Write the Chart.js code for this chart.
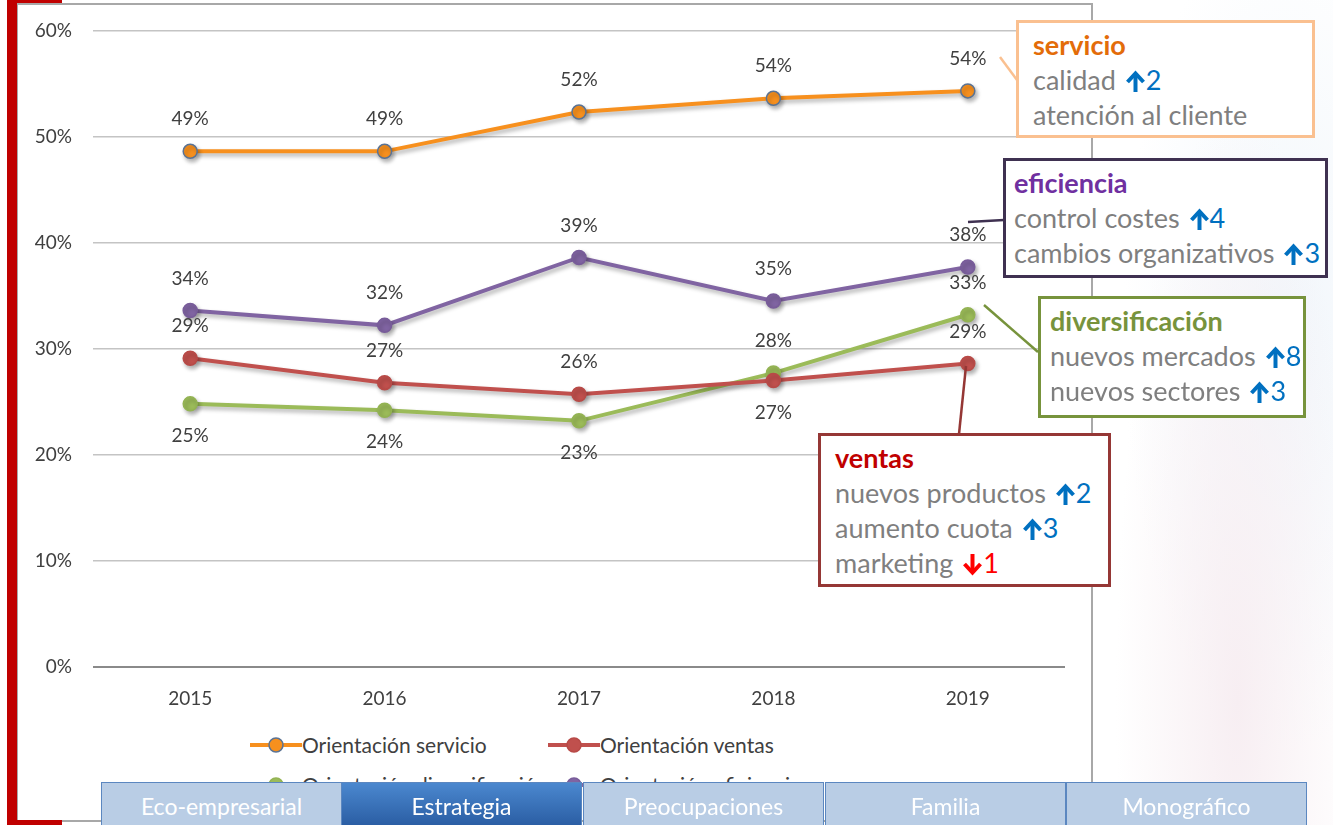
<!DOCTYPE html>
<html lang="es">
<head>
<meta charset="UTF-8">
<title>Orientación estratégica</title>
<script src="https://cdn.jsdelivr.net/npm/chart.js"></script>
<style>
  body { margin: 0; width: 1333px; height: 825px; overflow: hidden; background: #fff; font-family: Lato, "Open Sans", sans-serif; position: relative; }
  .abs { position: absolute; }
  .bg { left: 1094px; top: 0; width: 239px; height: 825px;
        background: radial-gradient(ellipse at 60% 85%, #f7eef2 0%, rgba(255,255,255,0) 60%),
                    radial-gradient(ellipse at 80% 40%, #f1f6fb 0%, rgba(255,255,255,0) 60%); }
  .frame { left: 17px; top: 3px; width: 1073px; height: 815px; border: 2px solid #a8a8a8; border-left-width: 1px; background: #fff; }
  .red { background: #c00000; }
  #wrap { left: 20px; top: -2px; width: 1070px; height: 722px; }
  svg.links { left: 0; top: 0; width: 1333px; height: 825px; }
  .box { background: #fff; border: 3px solid; padding: 4px 0 0 14px; box-sizing: border-box; font-size: 27px; line-height: 35px; color: #7f7f7f; white-space: nowrap; }
  .box b { font-weight: 700; }
  .ar { display: inline-block; width: 21px; height: 23px; vertical-align: -3px; margin-left: 2px; }
  .upn { color: #0070c0; }
  .dnn { color: #ff0000; }
  #legend { left: 250px; top: 732px; width: 700px; font-size: 21px; color: #404040; }
  .li { position: absolute; white-space: nowrap; display: flex; align-items: center; }
  .tab { top: 782px; height: 45px; width: 241px; box-sizing: border-box; border: 1px solid #5b87c0; background: #b9cde5; color: #fff; font-size: 23px; text-align: center; line-height: 46px; }
  .tab.on { background: linear-gradient(#4b88cf, #2a5da3); }
</style>
</head>
<body>
<div class="abs bg"></div>
<div class="abs frame"></div>
<div class="abs" id="wrap"><canvas id="chart"></canvas></div>
<div class="abs red" style="left:7px;top:0;width:10px;height:825px"></div>
<div class="abs red" style="left:7px;top:0;width:55px;height:3px"></div>
<div class="abs red" style="left:7px;top:820px;width:55px;height:5px"></div>
<div class="abs" id="legend"></div>

<svg class="abs links" viewBox="0 0 1333 825">
  <line x1="1000" y1="57" x2="1017" y2="80" stroke="#fac090" stroke-width="2.5"/>
  <line x1="968" y1="222" x2="1004" y2="220" stroke="#3f3151" stroke-width="2.5"/>
  <line x1="984" y1="305" x2="1038" y2="352" stroke="#77933c" stroke-width="2.5"/>
  <line x1="966" y1="366" x2="959" y2="434" stroke="#953735" stroke-width="2.5"/>
</svg>

<div class="abs box" style="left:1016px;top:20px;width:299px;height:118px;border-color:#fac090">
  <b style="color:#e36c09">servicio</b><br>
  calidad <i class="ar up"></i><span class="upn">2</span><br>
  atención al cliente
</div>
<div class="abs box" style="left:1003px;top:158px;width:325px;height:120px;border-color:#3f3151;padding-left:8px">
  <b style="color:#7030a0">eficiencia</b><br>
  control costes <i class="ar up"></i><span class="upn">4</span><br>
  cambios organizativos <i class="ar up"></i><span class="upn">3</span>
</div>
<div class="abs box" style="left:1038px;top:296px;width:268px;height:122px;border-color:#77933c;padding-left:9px">
  <b style="color:#77933c">diversificación</b><br>
  nuevos mercados <i class="ar up"></i><span class="upn">8</span><br>
  nuevos sectores <i class="ar up"></i><span class="upn">3</span>
</div>
<div class="abs box" style="left:818px;top:433px;width:293px;height:154px;border-color:#953735">
  <b style="color:#c00000">ventas</b><br>
  nuevos productos <i class="ar up"></i><span class="upn">2</span><br>
  aumento cuota <i class="ar up"></i><span class="upn">3</span><br>
  marketing <i class="ar dn"></i><span class="dnn">1</span>
</div>

<div class="abs tab" style="left:101px">Eco-empresarial</div>
<div class="abs tab on" style="left:341px">Estrategia</div>
<div class="abs tab" style="left:583px">Preocupaciones</div>
<div class="abs tab" style="left:825px">Familia</div>
<div class="abs tab" style="left:1066px">Monográfico</div>

<script>
  // datos (%)
  const years = ['2015', '2016', '2017', '2018', '2019'];
  const servicio = [48.6, 48.6, 52.3, 53.6, 54.3];
  const ventas = [29.1, 26.8, 25.7, 27.0, 28.6];
  const diversificacion = [24.8, 24.2, 23.2, 27.7, 33.2];
  const eficiencia = [33.6, 32.2, 38.6, 34.5, 37.7];
  const yTicks = [0, 10, 20, 30, 40, 50, 60];

  // posición de la etiqueta de cada punto
  const posServicio = ['top', 'top', 'top', 'top', 'top'];
  const posVentas = ['top', 'top', 'top', 'bottom', 'top'];
  const posDiversificacion = ['bottom', 'bottom', 'bottom', 'top', 'top'];
  const posEficiencia = ['top', 'top', 'top', 'top', 'top'];

  const series = [
    { label: 'Orientación servicio', data: servicio, color: '#f7901e', edge: '#5a7394', pos: posServicio },
    { label: 'Orientación ventas', data: ventas, color: '#c0504d', edge: '#b84a47', pos: posVentas },
    { label: 'Orientación diversificación', data: diversificacion, color: '#9bbb59', edge: '#93b353', pos: posDiversificacion },
    { label: 'Orientación eficiencia', data: eficiencia, color: '#8064a2', edge: '#785c9a', pos: posEficiencia }
  ];

  // flechas gruesas de las cajas
  const arrow = (col, down) => `<svg width="21" height="23" viewBox="0 0 21 23"><g stroke="${col}" stroke-width="4" fill="none"${down ? ' transform="rotate(180 10.5 11.5)"' : ''}><line x1="10.5" y1="22" x2="10.5" y2="4"/><polyline points="2.5,12 10.5,3.5 18.5,12"/></g></svg>`;
  document.querySelectorAll('.ar.up').forEach(e => e.innerHTML = arrow('#0070c0', false));
  document.querySelectorAll('.ar.dn').forEach(e => e.innerHTML = arrow('#ff0000', true));

  const shadow = {
    id: 'shadow',
    beforeDatasetsDraw(chart) {
      const c = chart.ctx;
      c.save();
      c.shadowColor = 'rgba(0,0,0,0.3)';
      c.shadowBlur = 4;
      c.shadowOffsetX = 2;
      c.shadowOffsetY = 3;
    },
    afterDatasetsDraw(chart) { chart.ctx.restore(); }
  };

  const labels = {
    id: 'labels',
    afterDatasetsDraw(chart) {
      const c = chart.ctx;
      c.save();
      c.font = '19px Lato, sans-serif';
      c.fillStyle = '#404040';
      c.textAlign = 'center';
      c.textBaseline = 'middle';
      chart.data.datasets.forEach((ds, i) => {
        chart.getDatasetMeta(i).data.forEach((pt, j) => {
          const dy = ds.pos[j] === 'top' ? -32 : 32;
          c.fillText(Math.round(ds.data[j]) + '%', pt.x, pt.y + dy);
        });
      });
      c.restore();
    }
  };

  new Chart(document.getElementById('chart'), {
    type: 'line',
    data: {
      labels: years,
      datasets: series.map(s => ({
        label: s.label,
        data: s.data,
        pos: s.pos,
        borderColor: s.color,
        backgroundColor: s.color,
        pointBackgroundColor: s.color,
        pointBorderColor: s.edge,
        pointBorderWidth: 1.5,
        pointRadius: 7,
        borderWidth: 4,
        tension: 0
      }))
    },
    options: {
      responsive: true,
      maintainAspectRatio: false,
      animation: false,
      layout: { padding: { top: 18, right: 25, left: 0, bottom: 0 } },
      plugins: { legend: { display: false }, tooltip: { enabled: false } },
      scales: {
        x: {
          offset: true,
          grid: { display: false, drawTicks: false },
          border: { display: false },
          ticks: { color: '#404040', font: { family: 'Lato', size: 19 }, padding: 20 },
          afterFit(s) { s.height = 53; }
        },
        y: {
          min: 0, max: 60,
          afterBuildTicks(s) { s.ticks = yTicks.map(v => ({ value: v })); },
          grid: {
            drawTicks: false,
            color: ctx => ctx.tick && ctx.tick.value === 0 ? '#8a8a8a' : '#c4c4c4',
            lineWidth: ctx => ctx.tick && ctx.tick.value === 0 ? 2 : 1.5
          },
          border: { display: false },
          ticks: { color: '#404040', font: { family: 'Lato', size: 19 }, padding: 21, callback: v => v + '%' },
          afterFit(s) { s.width = 73; }
        }
      }
    },
    plugins: [shadow, labels]
  });

  // leyenda en dos columnas
  const lg = document.getElementById('legend');
  series.forEach((s, i) => {
    const d = document.createElement('div');
    d.className = 'li';
    d.style.left = (i % 2 ? 298 : 0) + 'px';
    d.style.top = (i < 2 ? 0 : 40) + 'px';
    d.innerHTML = `<svg width="52" height="18"><line x1="0" y1="9" x2="52" y2="9" stroke="${s.color}" stroke-width="4"/><circle cx="26" cy="9" r="7" fill="${s.color}" stroke="${s.edge}" stroke-width="1.5"/></svg><span>${s.label}</span>`;
    lg.appendChild(d);
  });
</script>
</body>
</html>
